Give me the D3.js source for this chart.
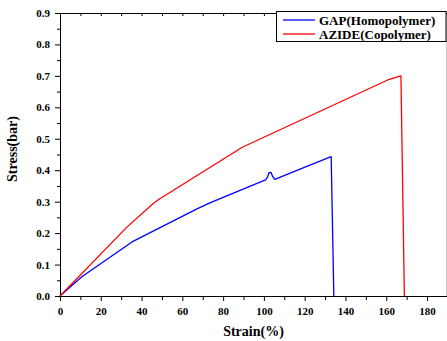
<!DOCTYPE html>
<html>
<head>
<meta charset="utf-8">
<script src="https://cdn.jsdelivr.net/npm/d3@7"></script>
<style>
  html, body { margin: 0; padding: 0; background: #fff; }
  svg { display: block; }
  svg text { font-family: "Liberation Serif", "Times New Roman", serif !important; font-weight: bold; fill: #000; }
</style>
</head>
<body>
<svg id="chart" width="447" height="341"></svg>
<script>
// ---- data ----
const seriesNames = ["GAP(Homopolymer)", "AZIDE(Copolymer)"];
const seriesColors = ["#0000ff", "#ff0000"];
const gapStrain  = [0, 10.7, 35.3, 67.2, 73.8, 100.8, 101.8, 102.5, 103.5, 104.3, 105.4, 118, 133, 134.3];
const gapStress  = [0, 0.061, 0.172, 0.277, 0.297, 0.369, 0.378, 0.392, 0.393, 0.38, 0.371, 0.404, 0.443, 0];
const azideStrain = [0, 32.8, 46.0, 48.4, 89.4, 160.7, 167.2, 168.9];
const azideStress = [0, 0.219, 0.296, 0.307, 0.473, 0.687, 0.70, 0];
const xTickValues = [0, 20, 40, 60, 80, 100, 120, 140, 160, 180];
const yTickValues = [0.0, 0.1, 0.2, 0.3, 0.4, 0.5, 0.6, 0.7, 0.8, 0.9];
const xLabel = "Strain(%)";
const yLabel = "Stress(bar)";

(function () {
const svg = d3.select("#chart");
const FONT = "Liberation Serif, serif";
const mLeft = 60, mTop = 13, mBottom = 296, mRight = 446;
const x = d3.scaleLinear().domain([0, 190]).range([mLeft, mLeft + 190 * 2.039]);
const y = d3.scaleLinear().domain([0, 0.9]).range([mBottom, mTop]);

// right frame line (light grey)
svg.append("line").attr("x1", mRight + 0.5).attr("x2", mRight + 0.5)
  .attr("y1", mTop).attr("y2", mBottom).attr("stroke", "#c8c8c8").attr("stroke-width", 1);

// top axis
const topAx = svg.append("g").attr("transform", `translate(0,${mTop})`)
  .call(d3.axisTop(x).tickValues(d3.range(10, 190, 10)).tickSize(-3).tickFormat(""));
topAx.select(".domain").attr("d", `M${mLeft},0.5H447`);

// x axis minor
svg.append("g").attr("transform", `translate(0,${mBottom})`)
  .call(d3.axisBottom(x).tickValues(d3.range(10, 190, 20)).tickSize(4).tickFormat(""))
  .call(g => g.select(".domain").remove());
// x axis major
const xAx = svg.append("g").attr("transform", `translate(0,${mBottom})`)
  .call(d3.axisBottom(x).tickValues(xTickValues).tickSize(5).tickPadding(6).tickFormat(d3.format("d")));
xAx.attr("font-family", FONT).attr("font-size", 11).attr("font-weight", "bold");
xAx.select(".domain").attr("d", `M${mLeft},0.5H447`);

// y axis minor
svg.append("g").attr("transform", `translate(${mLeft},0)`)
  .call(d3.axisLeft(y).tickValues(d3.range(0.05, 0.9, 0.1)).tickSize(3).tickFormat(""))
  .call(g => g.select(".domain").remove());
const yAx = svg.append("g").attr("transform", `translate(${mLeft},0)`)
  .call(d3.axisLeft(y).tickValues(yTickValues).tickSize(5).tickPadding(5).tickFormat(d3.format(".1f")));
yAx.attr("font-family", FONT).attr("font-size", 11).attr("font-weight", "bold");

svg.selectAll(".tick line").attr("stroke", "#000");
svg.selectAll(".domain").attr("stroke", "#000");

// lines
const line = d3.line().x(d => x(d[0])).y(d => y(d[1]));
const gapData = gapStrain.map((s, i) => [s, gapStress[i]]);
const azideData = azideStrain.map((s, i) => [s, azideStress[i]]);
[gapData, azideData].forEach((data, i) => {
  svg.append("path").datum(data).attr("d", line)
    .attr("fill", "none").attr("stroke", seriesColors[i]).attr("stroke-width", 1.3)
    .attr("stroke-linejoin", "round");
});

// axis titles
svg.append("text").attr("x", (mLeft + 447) / 2).attr("y", 336)
  .attr("text-anchor", "middle").attr("font-size", 14).attr("font-family", FONT).text(xLabel);
svg.append("text").attr("transform", "translate(17,149) rotate(-90)")
  .attr("text-anchor", "middle").attr("font-size", 14).attr("font-family", FONT).text(yLabel);

// legend
const lg = svg.append("g");
lg.append("rect").attr("x", 276.5).attr("y", 11.5).attr("width", 169.5).attr("height", 30)
  .attr("fill", "#fff").attr("stroke", "#000").attr("stroke-width", 1);
seriesNames.forEach((name, i) => {
  const yy = 20 + i * 14;
  lg.append("line").attr("x1", 283).attr("x2", 315).attr("y1", yy).attr("y2", yy)
    .attr("stroke", seriesColors[i]).attr("stroke-width", 1.3);
  lg.append("text").attr("x", 319).attr("y", yy + 4.5).attr("font-size", 13)
    .attr("font-family", FONT).text(name);
});
})();
</script>
</body>
</html>
